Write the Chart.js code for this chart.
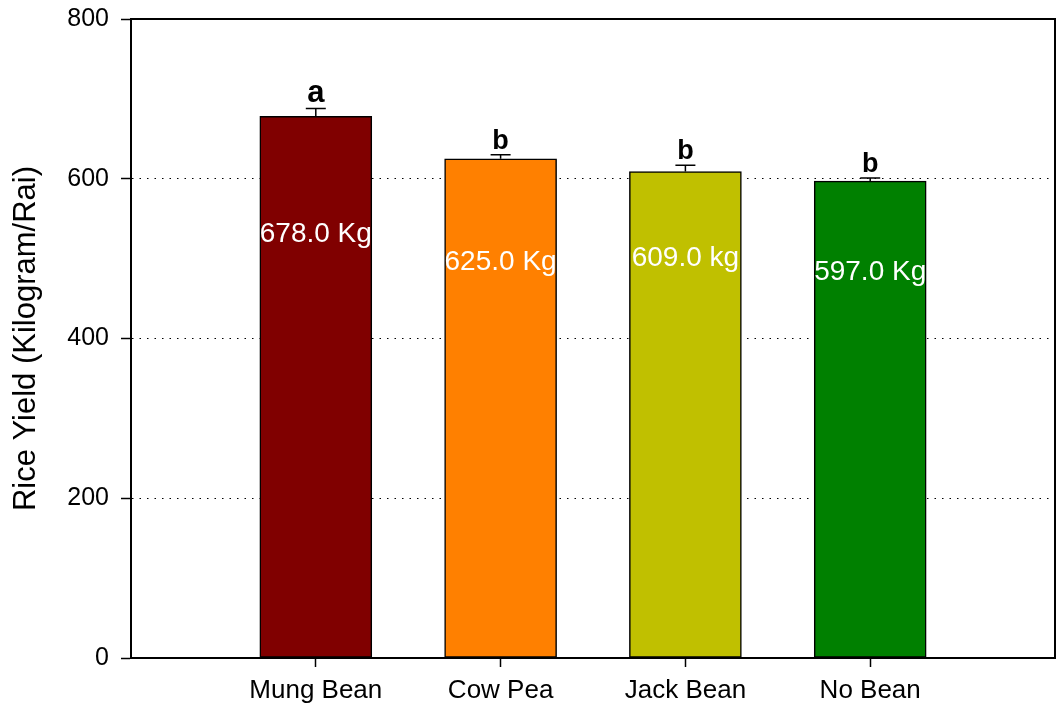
<!DOCTYPE html>
<html>
<head>
<meta charset="utf-8">
<script src="https://cdn.jsdelivr.net/npm/chart.js@4"></script>
<style>
  html, body { margin: 0; padding: 0; background: #fff; }
  #wrap { width: 1057px; height: 708px; position: relative; }
</style>
</head>
<body>
<div id="wrap"><canvas id="c"></canvas></div>
<script>
// Rice yield per treatment (kg/rai), standard error and significance groups
const categories = ['Mung Bean', 'Cow Pea', 'Jack Bean', 'No Bean'];
const yieldKg = [678, 625, 609, 597];
const errorKg = [10, 5, 8, 4];
const groupLetters = ['a', 'b', 'b', 'b'];
const valueLabels = ['678.0 Kg', '625.0 Kg', '609.0 kg', '597.0 Kg'];
const valueLabelLevel = [531, 495, 500, 483];   // vertical placement of the in-bar labels, axis units
const barColors = ['#800000', '#ff8000', '#c0c000', '#008000'];
const yMin = 0, yMax = 800, yStep = 200;

const FONT = '"Liberation Sans", Arial, Helvetica, sans-serif';

// empty slot on each side of the four treatments
const axisLabels = [''].concat(categories, ['']);
const barData = [null].concat(yieldKg, [null]);
const barFill = ['transparent'].concat(barColors, ['transparent']);

// error bars, significance letters and in-bar value labels
const annotations = {
  id: 'annotations',
  afterDatasetsDraw(chart) {
    const ctx = chart.ctx;
    const y = chart.scales.y;
    const meta = chart.getDatasetMeta(0);
    ctx.save();
    categories.forEach((name, i) => {
      const bar = meta.data[i + 1];
      const cx = bar.x;
      const top = y.getPixelForValue(yieldKg[i]);
      const cap = y.getPixelForValue(yieldKg[i] + errorKg[i]);
      // error whisker
      ctx.strokeStyle = '#000';
      ctx.lineWidth = 1.5;
      ctx.beginPath();
      ctx.moveTo(cx, top);
      ctx.lineTo(cx, cap);
      ctx.moveTo(cx - 10, cap);
      ctx.lineTo(cx + 10, cap);
      ctx.stroke();
      // significance letter
      ctx.fillStyle = '#000';
      ctx.textAlign = 'center';
      ctx.textBaseline = 'alphabetic';
      ctx.font = 'bold ' + (groupLetters[i] === 'a' ? 31 : 27) + 'px ' + FONT;
      ctx.fillText(groupLetters[i], cx, cap - 6);
      // value label inside the bar
      ctx.fillStyle = '#fff';
      ctx.textBaseline = 'middle';
      ctx.font = '28px ' + FONT;
      ctx.fillText(valueLabels[i], cx, y.getPixelForValue(valueLabelLevel[i]));
    });
    ctx.restore();
  }
};

// closing top and right edges of the plot box
const frame = {
  id: 'frame',
  afterDraw(chart) {
    const { ctx, chartArea: a } = chart;
    ctx.save();
    ctx.strokeStyle = '#000';
    ctx.lineWidth = 2;
    ctx.beginPath();
    ctx.moveTo(a.left, a.top);
    ctx.lineTo(a.right, a.top);
    ctx.lineTo(a.right, a.bottom);
    ctx.stroke();
    ctx.restore();
  }
};

new Chart(document.getElementById('c'), {
  type: 'bar',
  data: {
    labels: axisLabels,
    datasets: [{
      data: barData,
      backgroundColor: barFill,
      borderColor: '#000',
      borderWidth: 1.5,
      borderSkipped: false,
      barThickness: 112
    }]
  },
  options: {
    responsive: true,
    maintainAspectRatio: false,
    animation: false,
    layout: { padding: { top: 19, right: 2, left: 0, bottom: 0 } },
    plugins: { legend: { display: false }, tooltip: { enabled: false } },
    scales: {
      x: {
        type: 'category',
        offset: false,
        grid: {
          offset: false,
          drawOnChartArea: false,
          tickLength: 9,
          tickWidth: 1.5,
          tickColor: (c) => (c.index === 0 || c.index === axisLabels.length - 1) ? 'transparent' : '#000'
        },
        border: { display: true, color: '#000', width: 2 },
        ticks: { color: '#000', font: { family: FONT, size: 26 }, padding: 8, maxRotation: 0, autoSkip: false },
        afterFit: (s) => { s.height = 50; s.paddingLeft = 0; s.paddingRight = 0; }
      },
      y: {
        min: yMin,
        max: yMax,
        ticks: { stepSize: yStep, color: '#000', font: { family: FONT, size: 25 }, padding: 12 },
        grid: { color: '#000', lineWidth: 1, tickLength: 10, tickColor: '#000', tickWidth: 1.5 },
        border: { display: true, color: '#000', width: 2, dash: (c) => c.type === 'tick' ? [1.5, 6] : [] },
        title: {
          display: true,
          text: 'Rice Yield (Kilogram/Rai)',
          color: '#000',
          font: { family: FONT, size: 31 },
          padding: { top: 8, bottom: 0 }
        },
        afterFit: (s) => { s.width = 131; s.paddingTop = 0; s.paddingBottom = 0; }
      }
    }
  },
  plugins: [annotations, frame]
});
</script>
</body>
</html>
